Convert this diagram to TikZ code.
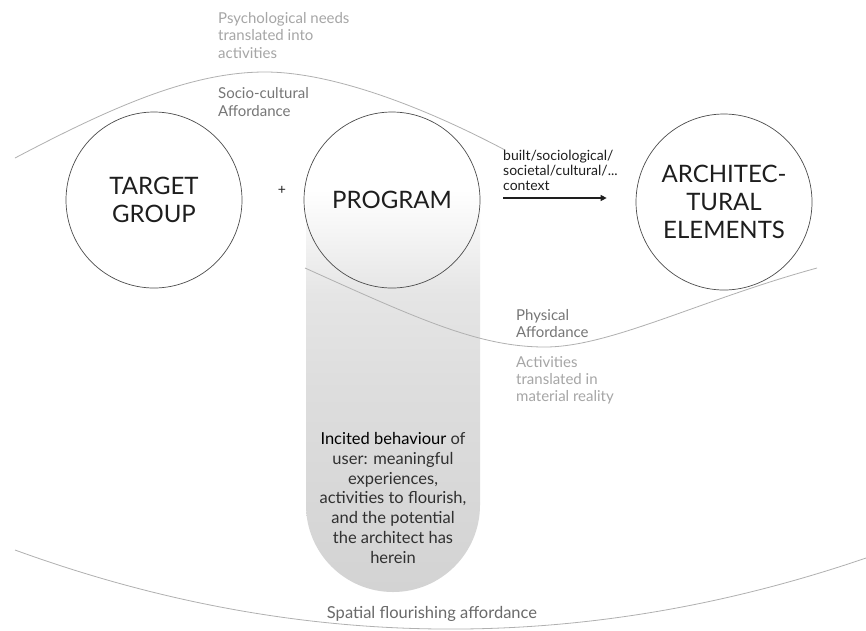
\documentclass[tikz,border=0pt]{standalone}
\usepackage{fontspec}
\setmainfont{Lato}
\usetikzlibrary{arrows.meta}
\definecolor{ink}{HTML}{1E1E1E}
\definecolor{bodytext}{HTML}{303030}
\definecolor{ringcol}{HTML}{4D4D4D}
\definecolor{curvecol}{HTML}{B0B0B0}
\definecolor{paletext}{HTML}{A6A6A6}
\definecolor{midtext}{HTML}{767676}
\definecolor{floortext}{HTML}{6A6A6A}
\definecolor{shadebot}{HTML}{D3D3D3}
\definecolor{shadelow}{HTML}{DDDDDD}
\definecolor{shademid}{HTML}{E5E5E5}
\definecolor{shadehigh}{HTML}{F1F1F1}
% 25bp = bottom of the column, 75bp = top of the column
\pgfdeclareverticalshading{columnfade}{100bp}{%
  color(0bp)=(shadebot); color(25bp)=(shadebot); color(50bp)=(shadelow);
  color(62bp)=(shademid); color(68bp)=(shadehigh); color(75bp)=(white);
  color(100bp)=(white)}

\begin{document}
\begin{tikzpicture}[x=1pt,y=-1pt,
  ring/.style={circle,draw=ringcol,line width=0.7pt,minimum size=176pt,
    inner sep=0pt,align=center,text=ink,font=\fontsize{24}{28}\selectfont},
  affcurve/.style={draw=curvecol,line width=0.8pt},
  note/.style={anchor=base west,align=left,inner sep=0pt},
  flow/.style={-{Triangle[length=6pt,width=6pt]},line width=1.1pt,draw=ink}
]
\useasboundingbox (0,0) rectangle (866,630);
\fill[white] (0,0) rectangle (866,630);

% shaded column under the program circle
\shade[shading=columnfade]
  (306,190) -- (306,505) arc[start angle=180,end angle=0,radius=87]
  -- (480,190) -- cycle;

% affordance boundaries
\draw[affcurve] (15,158) .. controls (110,108) and (190,72) .. (265,72)
  .. controls (330,72) and (420,105) .. (505,150);
\draw[affcurve] (305,268) .. controls (420,320) and (480,347) .. (545,347)
  .. controls (610,347) and (700,300) .. (817,268);
\draw[affcurve] (15,550) .. controls (298,653) and (582,655) .. (866,558);

% main elements
\node[ring] (tg) at (154,200) {TARGET\\GROUP};
\node[ring] (prog) at (392,200) {PROGRAM};
\node[ring] (arch) at (724,202) {ARCHITEC-\\TURAL\\ELEMENTS};
\node[text=ink,font=\fontsize{14}{14}\selectfont] (plus) at (282,190) {+};

\draw[flow] ([xshift=23pt,yshift=2pt]prog.east) -- ([xshift=-29pt,yshift=4pt]arch.west);

% labels (placed by the baseline of their last line)
\node[note,text=paletext,font=\fontsize{15}{17.5}\selectfont] (psy) at (218,58)
  {Psychological needs\\translated into\\activities};
\node[note,text=midtext,font=\fontsize{15}{18}\selectfont] (socio) at (218,116)
  {Socio-cultural\\Affordance};
\node[note,text=ink,font=\fontsize{14}{15}\selectfont] (ctx) at (503,190)
  {built/sociological/\\societal/cultural/...\\context};
\node[note,text=midtext,font=\fontsize{15}{17}\selectfont] (phys) at (516,337)
  {Physical\\Affordance};
\node[note,text=paletext,font=\fontsize{15}{17}\selectfont] (act) at (516,401)
  {Activities\\translated in\\material reality};
\node[anchor=base,align=center,inner sep=0pt,text=bodytext,
  font=\fontsize{16.5}{19.7}\selectfont] (incited) at (393,563)
  {\textcolor{black}{Incited behaviour} of\\user: meaningful\\experiences,\\activities to flourish,\\and the potential\\the architect has\\herein};
\node[anchor=base,inner sep=0pt,text=floortext,
  font=\fontsize{16.5}{18}\selectfont] (spatial) at (432,618)
  {Spatial flourishing affordance};
\end{tikzpicture}
\end{document}
